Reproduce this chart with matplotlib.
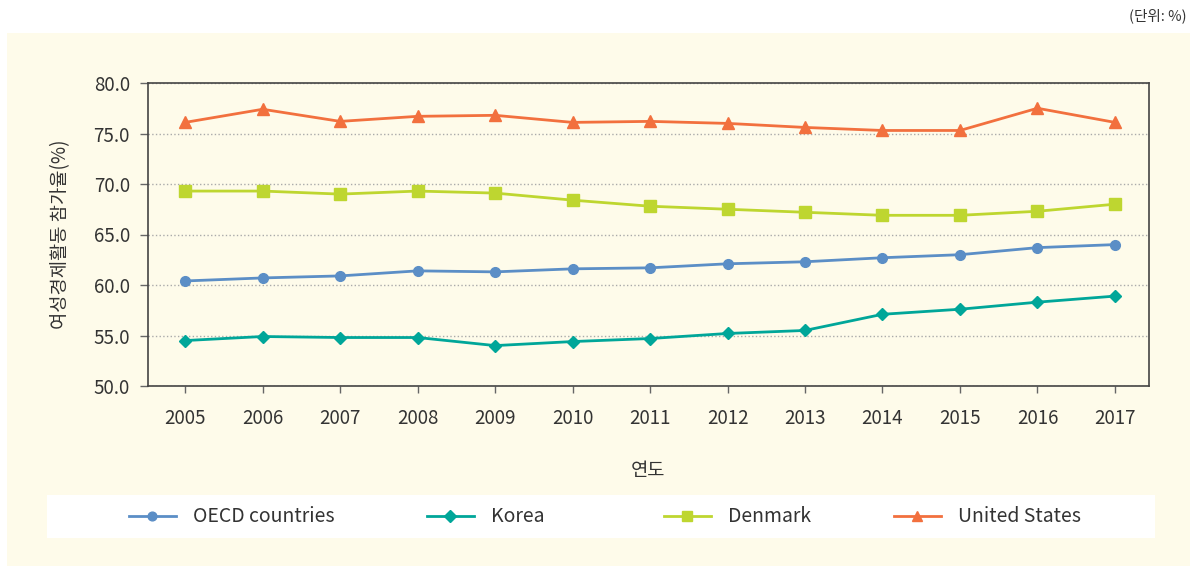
import matplotlib
matplotlib.use("Agg")
import matplotlib.pyplot as plt
from matplotlib.patches import Rectangle

plt.rcParams['font.family'] = ['Noto Sans CJK KR', 'DejaVu Sans']

years = [2005, 2006, 2007, 2008, 2009, 2010, 2011, 2012, 2013, 2014, 2015, 2016, 2017]
oecd = [60.4, 60.7, 60.9, 61.4, 61.3, 61.6, 61.7, 62.1, 62.3, 62.7, 63.0, 63.7, 64.0]
korea = [54.5, 54.9, 54.8, 54.8, 54.0, 54.4, 54.7, 55.2, 55.5, 57.1, 57.6, 58.3, 58.9]
denmark = [69.3, 69.3, 69.0, 69.3, 69.1, 68.4, 67.8, 67.5, 67.2, 66.9, 66.9, 67.3, 68.0]
usa = [76.1, 77.4, 76.2, 76.7, 76.8, 76.1, 76.2, 76.0, 75.6, 75.3, 75.3, 77.5, 76.1]
y_ticks = [50, 55, 60, 65, 70, 75, 80]

W, H = 1197, 568
CREAM = '#fefbea'
TEXT = '#333333'
FS = 13.5

fig = plt.figure(figsize=(W / 100, H / 100), dpi=100)
fig.patch.set_facecolor('white')

# cream background panel and white legend box
fig.patches.append(Rectangle((7 / W, 1 - 566 / H), (1190 - 7) / W, (566 - 33) / H,
                             transform=fig.transFigure, facecolor=CREAM, edgecolor='none', zorder=-10))
fig.patches.append(Rectangle((47 / W, 1 - 538 / H), (1155 - 47) / W, (538 - 495) / H,
                             transform=fig.transFigure, facecolor='white', edgecolor='none', zorder=-5))

ax = fig.add_axes([148 / W, 1 - 386 / H, (1149 - 148) / W, (386 - 83) / H])
ax.set_facecolor(CREAM)
ax.set_zorder(2)

series = [
    ('OECD countries', oecd, '#5b8ec6', 'o', 7),
    ('Korea', korea, '#00a699', 'D', 6.5),
    ('Denmark', denmark, '#bed630', 's', 8),
    ('United States', usa, '#f2703e', '^', 8),
]
handles = []
for name, vals, color, marker, ms in series:
    h, = ax.plot(years, vals, color=color, marker=marker, markersize=ms, linewidth=2, label=name)
    handles.append(h)

ax.set_xlim(2004.52, 2017.44)
ax.set_ylim(50, 80)
ax.set_xticks(years)
ax.set_yticks(y_ticks)
ax.set_yticklabels([f'{v:.1f}' for v in y_ticks])
ax.tick_params(axis='both', labelsize=FS, colors='#666666', labelcolor=TEXT, width=1)
ax.tick_params(axis='x', pad=11, length=5)
ax.tick_params(axis='y', pad=7, length=6)
for s in ax.spines.values():
    s.set_color('#444444')
    s.set_linewidth(1.2)
ax.grid(axis='y', linestyle=':', color='#aaaaaa', linewidth=1)
ax.set_axisbelow(True)

ax.set_ylabel('여성경제활동 참가율(%)', fontsize=FS, color=TEXT, labelpad=16)
ax.set_xlabel('연도', fontsize=FS, color=TEXT, labelpad=22)

fig.text(1187 / W, 1 - 16 / H, '(단위: %)', ha='right', va='center', fontsize=10.5, color=TEXT)

# legend entries positioned individually
legend_x = [129, 427, 664, 894]
for h, x in zip(handles, legend_x):
    leg = fig.legend(handles=[h], loc='center left', bbox_to_anchor=(x / W, 1 - 517 / H),
                     frameon=False, fontsize=FS + 0.5, handlelength=2.4, handletextpad=0.9,
                     borderaxespad=0, borderpad=0)
    for t in leg.get_texts():
        t.set_color(TEXT)
    for lh in leg.legend_handles:
        lh.set_markersize(lh.get_markersize() * 0.9)

fig.savefig('out.png', dpi=100, facecolor=fig.get_facecolor())
